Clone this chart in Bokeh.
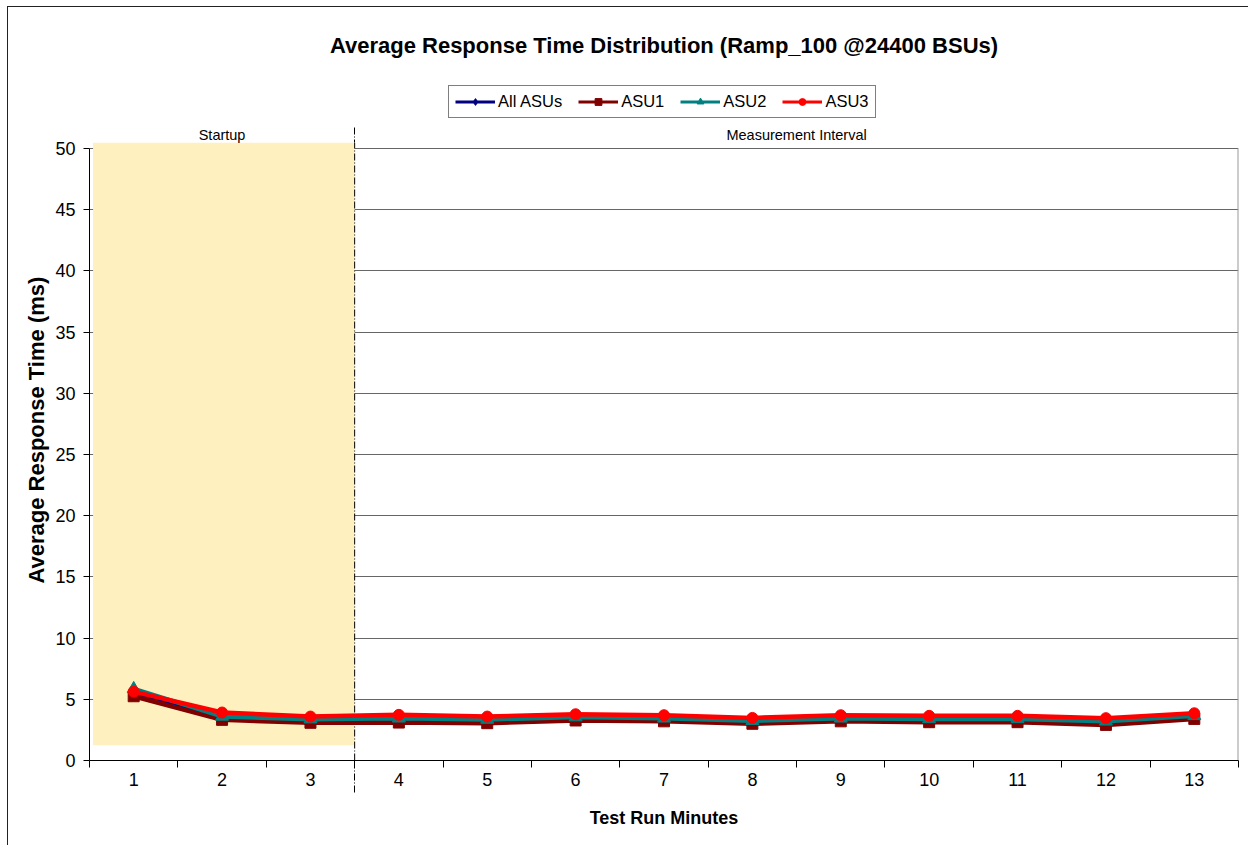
from bokeh.plotting import figure
from bokeh.layouts import column
from bokeh.models import (Range1d, FixedTicker, Legend, LegendItem, LinearAxis,
                          ColumnDataSource, Label)
from bokeh.embed import file_html
from bokeh.resources import INLINE

minutes = list(range(1, 14))
tick_labels = [str(m) for m in minutes]
all_asus = [5.45, 3.55, 3.35, 3.45, 3.3, 3.55, 3.45, 3.25, 3.45, 3.4, 3.4, 3.15, 3.65]
asu1 = [5.25, 3.32, 3.08, 3.1, 3.05, 3.27, 3.2, 3.0, 3.2, 3.13, 3.13, 2.91, 3.4]
asu2 = [5.85, 3.6, 3.38, 3.45, 3.35, 3.55, 3.45, 3.25, 3.45, 3.4, 3.4, 3.2, 3.65]
asu3 = [5.63, 3.92, 3.59, 3.73, 3.59, 3.78, 3.7, 3.48, 3.7, 3.65, 3.65, 3.46, 3.86]
series_names = ["All ASUs", "ASU1", "ASU2", "ASU3"]
series_colors = ["#000080", "#800000", "#008080", "#ff0000"]
series_markers = ["diamond", "square", "triangle", "circle"]
region_names = ["Startup", "Measurement Interval"]
startup_end = 3.5
startup_bottom = 1.25
title_text = "Average Response Time Distribution (Ramp_100 @24400 BSUs)"
y_title = "Average Response Time (ms)"
x_title = "Test Run Minutes"

FONT = "Liberation Sans"
X0, X1 = 0.5, 13.5
Y_TOP = 50.5
DASH = "7 2 1 2"
W = 1240
TOP_H = 113
MAIN_H = 725
LW = 4.5
NBSP = "\u00a0"


def marker_size(mk):
    return 12 if mk == "diamond" else (13 if mk == "triangle" else 11)


series_values = [all_asus, asu1, asu2, asu3]

# ---------------- header figure: title + legend ----------------
top = figure(width=W, height=TOP_H, output_backend="svg", toolbar_location=None,
             x_range=Range1d(X0, X1), y_range=Range1d(0, TOP_H),
             min_border_left=81, min_border_right=10, min_border_top=0, min_border_bottom=0,
             x_axis_type=None, y_axis_type=None)
top.grid.visible = False
top.outline_line_color = None
top.background_fill_color = "white"
top.border_fill_color = "white"

top.add_layout(Label(x=(X0 + X1) / 2, y=75, text=title_text, text_align="center",
                     text_baseline="middle", text_font=FONT, text_font_size="22px",
                     text_font_style="bold", text_color="black"))

items = []
for name, vals, col, mk in zip(series_names, series_values, series_colors, series_markers):
    src = ColumnDataSource(dict(x=minutes, y=vals))
    ln = top.line("x", "y", source=src, line_color=col, line_width=3, visible=False)
    sc = top.scatter("x", "y", source=src, marker=mk, size=marker_size(mk) - 2,
                     fill_color=col, line_color=col, visible=False)
    items.append(LegendItem(label=name, renderers=[ln, sc]))

legend = Legend(items=items, orientation="horizontal", location=(359, 2),
                label_text_font=FONT, label_text_font_size="16.5px",
                label_text_color="black", glyph_width=40, glyph_height=17,
                label_height=17, label_standoff=3, spacing=16, padding=6, margin=0,
                border_line_color="black", border_line_width=1,
                background_fill_color="white", background_fill_alpha=1,
                inactive_fill_alpha=0)
top.add_layout(legend, "center")

# ---------------- main chart ----------------
p = figure(width=W, height=MAIN_H, output_backend="svg", toolbar_location=None,
           x_range=Range1d(X0, X1), y_range=Range1d(0, Y_TOP),
           min_border_left=81, min_border_right=10, min_border_top=22,
           min_border_bottom=85)
p.outline_line_color = None
p.background_fill_color = "white"

# startup shaded region
p.quad(left=[0.54], right=[startup_end], bottom=[startup_bottom], top=[Y_TOP],
       fill_color="#fff0bf", line_color=None)

# grid
p.xgrid.visible = False
p.ygrid.ticker = FixedTicker(ticks=list(range(5, 55, 5)))
p.ygrid.grid_line_color = "#666666"
p.ygrid.grid_line_width = 1

# right border of plot area and dash-dot divider inside the plot area
p.segment(x0=[X1], y0=[0], x1=[X1], y1=[50], line_color="#999999", line_width=2)
p.segment(x0=[startup_end], y0=[0], x1=[startup_end], y1=[Y_TOP], line_color="black",
          line_width=1, line_dash=DASH)

# y axis
yax = p.yaxis[0]
yax.ticker = FixedTicker(ticks=list(range(0, 55, 5)))
yax.bounds = (0, 50)
yax.axis_line_color = "black"
yax.major_tick_in = 0
yax.major_tick_out = 6
yax.major_tick_line_color = "black"
yax.minor_tick_line_color = None
yax.major_label_text_font = FONT
yax.major_label_text_font_size = "18px"
yax.major_label_text_color = "black"
yax.major_label_standoff = 8
yax.axis_label = NBSP * 7 + y_title
yax.axis_label_text_font = FONT
yax.axis_label_text_font_size = "22px"
yax.axis_label_text_font_style = "bold"
yax.axis_label_text_color = "black"
yax.axis_label_standoff = 3

# x axis: minute labels + axis title
xax = p.xaxis[0]
xax.ticker = FixedTicker(ticks=minutes, minor_ticks=[])
xax.major_label_overrides = {m: lab for m, lab in zip(minutes, tick_labels)}
xax.axis_line_color = None
xax.major_tick_line_color = None
xax.major_tick_in = 0
xax.major_tick_out = 0
xax.minor_tick_line_color = None
xax.major_label_text_font = FONT
xax.major_label_text_font_size = "18px"
xax.major_label_text_color = "black"
xax.major_label_standoff = -20
xax.axis_label = x_title
xax.axis_label_text_font = FONT
xax.axis_label_text_font_size = "18px"
xax.axis_label_text_font_style = "bold"
xax.axis_label_text_color = "black"
xax.axis_label_standoff = 19

# axis nearest the plot: axis line, category ticks, lower part of divider
line_axis = LinearAxis(ticker=FixedTicker(ticks=[startup_end],
                                          minor_ticks=[m + 0.5 for m in range(0, 14)]),
                       axis_line_color="black", axis_line_width=1,
                       major_tick_in=0, major_tick_out=32, major_tick_line_color="black",
                       major_tick_line_dash=DASH,
                       minor_tick_in=0, minor_tick_out=7, minor_tick_line_color="black",
                       major_label_standoff=0, major_label_text_font_size="1px",
                       major_label_text_alpha=0)
line_axis.major_label_overrides = {startup_end: ""}
p.below = [line_axis] + list(p.below)

# region labels and upper part of divider
reg_ticks = [(X0 + startup_end) / 2, (startup_end + X1) / 2]
reg_axis = LinearAxis(ticker=FixedTicker(ticks=reg_ticks, minor_ticks=[startup_end]),
                      axis_line_color=None, major_tick_line_color=None,
                      major_tick_in=0, major_tick_out=0,
                      minor_tick_in=0, minor_tick_out=15, minor_tick_line_color="black",
                      minor_tick_line_dash=DASH,
                      major_label_standoff=-15, major_label_text_font=FONT,
                      major_label_text_font_size="14.5px", major_label_text_color="black")
reg_axis.major_label_overrides = {reg_ticks[0]: region_names[0], reg_ticks[1]: region_names[1]}
p.add_layout(reg_axis, "above")

# series
for name, vals, col, mk in zip(series_names, series_values, series_colors, series_markers):
    src = ColumnDataSource(dict(x=minutes, y=vals))
    p.line("x", "y", source=src, line_color=col, line_width=LW)
    p.scatter("x", "y", source=src, marker=mk, size=marker_size(mk), fill_color=col,
              line_color=col)

layout = column(top, p, spacing=0)
layout.styles = {"margin-left": "7px", "margin-top": "6px",
                 "border-top": "1px solid #222", "border-left": "1px solid #222"}

open("out.html", "w").write(file_html(layout, INLINE))
